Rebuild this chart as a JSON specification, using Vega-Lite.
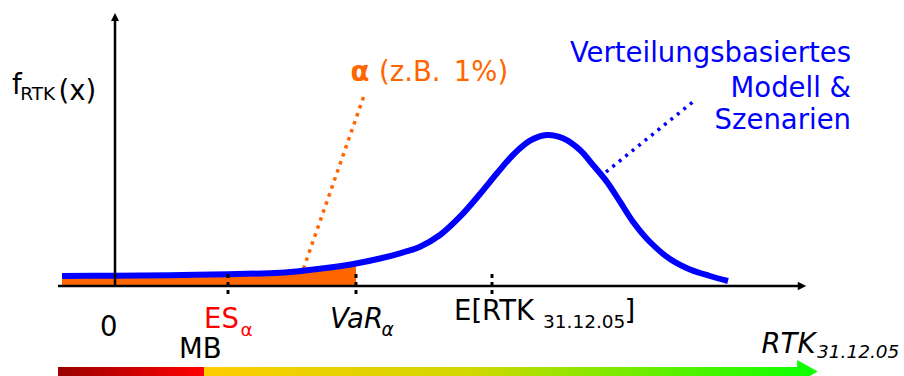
{
  "$schema": "https://vega.github.io/schema/vega-lite/v6.json",
  "width": 904,
  "height": 376,
  "padding": 0,
  "autosize": {"type": "fit", "contains": "padding"},
  "background": "white",
  "config": {"view": {"stroke": null}, "font": "DejaVu Sans"},
  "datasets": {
    "curve": [
      {"x": -53, "y": 10}, {"x": 0, "y": 10.3}, {"x": 55, "y": 10.8}, {"x": 113, "y": 11.7},
      {"x": 165, "y": 13.3}, {"x": 190, "y": 15.5}, {"x": 215, "y": 18.5}, {"x": 241, "y": 22.5},
      {"x": 265, "y": 27.5}, {"x": 285, "y": 32.7}, {"x": 305, "y": 39.3}, {"x": 325, "y": 51},
      {"x": 345, "y": 69.3}, {"x": 365, "y": 92}, {"x": 382, "y": 112.7}, {"x": 398, "y": 131},
      {"x": 415, "y": 145.3}, {"x": 432, "y": 151}, {"x": 448, "y": 147.7}, {"x": 465, "y": 136},
      {"x": 478, "y": 121}, {"x": 492, "y": 104}, {"x": 505, "y": 84.3}, {"x": 518, "y": 64.3},
      {"x": 535, "y": 44}, {"x": 555, "y": 27}, {"x": 575, "y": 16.5}, {"x": 595, "y": 10}, {"x": 613, "y": 5}
    ],
    "segments": [
      {"kind": "axis", "x": -57, "y": 0, "x2": 684, "y2": 0},
      {"kind": "axis", "x": 0, "y": 0, "x2": 0, "y2": 265},
      {"kind": "tick", "x": 113, "y": -8, "x2": 113, "y2": 13},
      {"kind": "tick", "x": 241, "y": -8, "x2": 241, "y2": 13},
      {"kind": "tick", "x": 377, "y": -8, "x2": 377, "y2": 13},
      {"kind": "orange", "x": 248.5, "y": 189, "x2": 188, "y2": 16},
      {"kind": "blue", "x": 491, "y": 114, "x2": 579, "y2": 185}
    ],
    "bars": [
      {"kind": "low", "x": -57, "x2": 89, "y": -81, "y2": -91},
      {"kind": "high", "x": 89, "x2": 686, "y": -81, "y2": -91}
    ],
    "heads": [
      {"kind": "bar", "x": 692.5, "y": -85.5},
      {"kind": "xAxis", "x": 687, "y": 0},
      {"kind": "yAxis", "x": 0, "y": 269}
    ],
    "labels": [
      {"kind": "main", "text": "f", "x": -103, "y": 192},
      {"kind": "main", "text": "(x)", "x": -56.5, "y": 186.5},
      {"kind": "main", "text": "0", "x": -15, "y": -49.7},
      {"kind": "main", "text": "MB", "x": 64, "y": -72.3},
      {"kind": "main", "text": "E[RTK", "x": 339, "y": -34},
      {"kind": "main", "text": "]", "x": 509.4, "y": -34},
      {"kind": "sub", "text": "RTK", "x": -94.8, "y": 186},
      {"kind": "sub", "text": "31.12.05", "x": 428, "y": -41.7},
      {"kind": "italic", "text": "VaR", "x": 215, "y": -42},
      {"kind": "italic", "text": "RTK", "x": 646.5, "y": -67.3},
      {"kind": "italicSub", "text": "α", "x": 266.5, "y": -49.7},
      {"kind": "italicSub", "text": "31.12.05", "x": 702, "y": -72.3},
      {"kind": "red", "text": "ES", "x": 89, "y": -42.3},
      {"kind": "redSub", "text": "α", "x": 125.5, "y": -49.7},
      {"kind": "alphaBold", "text": "α", "x": 235.5, "y": 205},
      {"kind": "orange", "text": "(z.B.", "x": 264, "y": 205},
      {"kind": "orange", "text": "1%)", "x": 338.8, "y": 205},
      {"kind": "blue", "text": "Verteilungsbasiertes", "x": 736, "y": 224.3},
      {"kind": "blue", "text": "Modell &", "x": 736, "y": 189.3},
      {"kind": "blue", "text": "Szenarien", "x": 736, "y": 156.7}
    ]
  },
  "encoding": {
    "x": {"field": "x", "type": "quantitative", "scale": {"domain": [-115, 789], "nice": false, "zero": false}, "axis": null},
    "y": {"field": "y", "type": "quantitative", "scale": {"domain": [-90, 286], "nice": false, "zero": false}, "axis": null}
  },
  "layer": [
    {
      "data": {"name": "bars"},
      "transform": [{"filter": "datum.kind == 'low'"}],
      "mark": {"type": "rect", "clip": true, "fill": {"gradient": "linear", "x1": 0, "y1": 0, "x2": 1, "y2": 0, "stops": [{"offset": 0, "color": "#990000"}, {"offset": 1, "color": "#FF0000"}]}},
      "encoding": {"x2": {"field": "x2"}, "y2": {"field": "y2"}}
    },
    {
      "data": {"name": "bars"},
      "transform": [{"filter": "datum.kind == 'high'"}],
      "mark": {"type": "rect", "clip": true, "fill": {"gradient": "linear", "x1": 0, "y1": 0, "x2": 1, "y2": 0, "stops": [{"offset": 0, "color": "#FFCC00"}, {"offset": 0.45, "color": "#D0D800"}, {"offset": 1, "color": "#11FF00"}]}},
      "encoding": {"x2": {"field": "x2"}, "y2": {"field": "y2"}}
    },
    {
      "data": {"name": "heads"},
      "transform": [{"filter": "datum.kind == 'bar'"}],
      "mark": {"type": "point", "clip": true, "shape": "M-0.9,-1L0.9,0L-0.9,1Z", "size": 529, "filled": true, "color": "#11FF00", "opacity": 1, "strokeWidth": 0}
    },
    {
      "data": {"name": "curve"},
      "transform": [{"filter": "datum.x <= 241"}],
      "mark": {"type": "area", "color": "#FF6600", "interpolate": "catmull-rom", "opacity": 1},
      "encoding": {"y2": {"datum": 0}}
    },
    {
      "data": {"name": "segments"},
      "transform": [{"filter": "datum.kind == 'orange'"}],
      "mark": {"type": "rule", "color": "#FF6600", "strokeWidth": 3.5, "strokeDash": [3.5, 5]},
      "encoding": {"x2": {"field": "x2"}, "y2": {"field": "y2"}}
    },
    {
      "data": {"name": "segments"},
      "transform": [{"filter": "datum.kind == 'blue'"}],
      "mark": {"type": "rule", "color": "#0000FF", "strokeWidth": 3.5, "strokeDash": [3, 5.3]},
      "encoding": {"x2": {"field": "x2"}, "y2": {"field": "y2"}}
    },
    {
      "data": {"name": "curve"},
      "mark": {"type": "line", "color": "#0000FF", "strokeWidth": 6, "interpolate": "catmull-rom", "strokeCap": "butt"}
    },
    {
      "data": {"name": "segments"},
      "transform": [{"filter": "datum.kind == 'axis'"}],
      "mark": {"type": "rule", "color": "#000000", "strokeWidth": 2.5},
      "encoding": {"x2": {"field": "x2"}, "y2": {"field": "y2"}}
    },
    {
      "data": {"name": "segments"},
      "transform": [{"filter": "datum.kind == 'tick'"}],
      "mark": {"type": "rule", "color": "#000000", "strokeWidth": 3, "strokeDash": [4, 4]},
      "encoding": {"x2": {"field": "x2"}, "y2": {"field": "y2"}}
    },
    {
      "data": {"name": "heads"},
      "transform": [{"filter": "datum.kind == 'xAxis'"}],
      "mark": {"type": "point", "shape": "M-1,-1L1,0L-1,1Z", "size": 72, "filled": true, "color": "#000000", "opacity": 1, "strokeWidth": 0}
    },
    {
      "data": {"name": "heads"},
      "transform": [{"filter": "datum.kind == 'yAxis'"}],
      "mark": {"type": "point", "shape": "M-1,1L0,-1L1,1Z", "size": 64, "filled": true, "color": "#000000", "opacity": 1, "strokeWidth": 0}
    },
    {
      "data": {"name": "labels"},
      "transform": [{"filter": "datum.kind == 'main'"}],
      "mark": {"type": "text", "align": "left", "baseline": "alphabetic", "fontSize": 27.5, "color": "#000000"},
      "encoding": {"text": {"field": "text"}}
    },
    {
      "data": {"name": "labels"},
      "transform": [{"filter": "datum.kind == 'sub'"}],
      "mark": {"type": "text", "align": "left", "baseline": "alphabetic", "fontSize": 18.5, "color": "#000000"},
      "encoding": {"text": {"field": "text"}}
    },
    {
      "data": {"name": "labels"},
      "transform": [{"filter": "datum.kind == 'italic'"}],
      "mark": {"type": "text", "align": "left", "baseline": "alphabetic", "fontSize": 27.5, "fontStyle": "italic", "color": "#000000"},
      "encoding": {"text": {"field": "text"}}
    },
    {
      "data": {"name": "labels"},
      "transform": [{"filter": "datum.kind == 'italicSub'"}],
      "mark": {"type": "text", "align": "left", "baseline": "alphabetic", "fontSize": 18.5, "fontStyle": "italic", "color": "#000000"},
      "encoding": {"text": {"field": "text"}}
    },
    {
      "data": {"name": "labels"},
      "transform": [{"filter": "datum.kind == 'red'"}],
      "mark": {"type": "text", "align": "left", "baseline": "alphabetic", "fontSize": 27.5, "color": "#FF0000"},
      "encoding": {"text": {"field": "text"}}
    },
    {
      "data": {"name": "labels"},
      "transform": [{"filter": "datum.kind == 'redSub'"}],
      "mark": {"type": "text", "align": "left", "baseline": "alphabetic", "fontSize": 18.5, "color": "#FF0000"},
      "encoding": {"text": {"field": "text"}}
    },
    {
      "data": {"name": "labels"},
      "transform": [{"filter": "datum.kind == 'alphaBold'"}],
      "mark": {"type": "text", "align": "left", "baseline": "alphabetic", "fontSize": 27.5, "fontWeight": "bold", "color": "#FF6600"},
      "encoding": {"text": {"field": "text"}}
    },
    {
      "data": {"name": "labels"},
      "transform": [{"filter": "datum.kind == 'orange'"}],
      "mark": {"type": "text", "align": "left", "baseline": "alphabetic", "fontSize": 27.5, "color": "#FF6600"},
      "encoding": {"text": {"field": "text"}}
    },
    {
      "data": {"name": "labels"},
      "transform": [{"filter": "datum.kind == 'blue'"}],
      "mark": {"type": "text", "align": "right", "baseline": "alphabetic", "fontSize": 27.5, "color": "#0000FF"},
      "encoding": {"text": {"field": "text"}}
    }
  ]
}
